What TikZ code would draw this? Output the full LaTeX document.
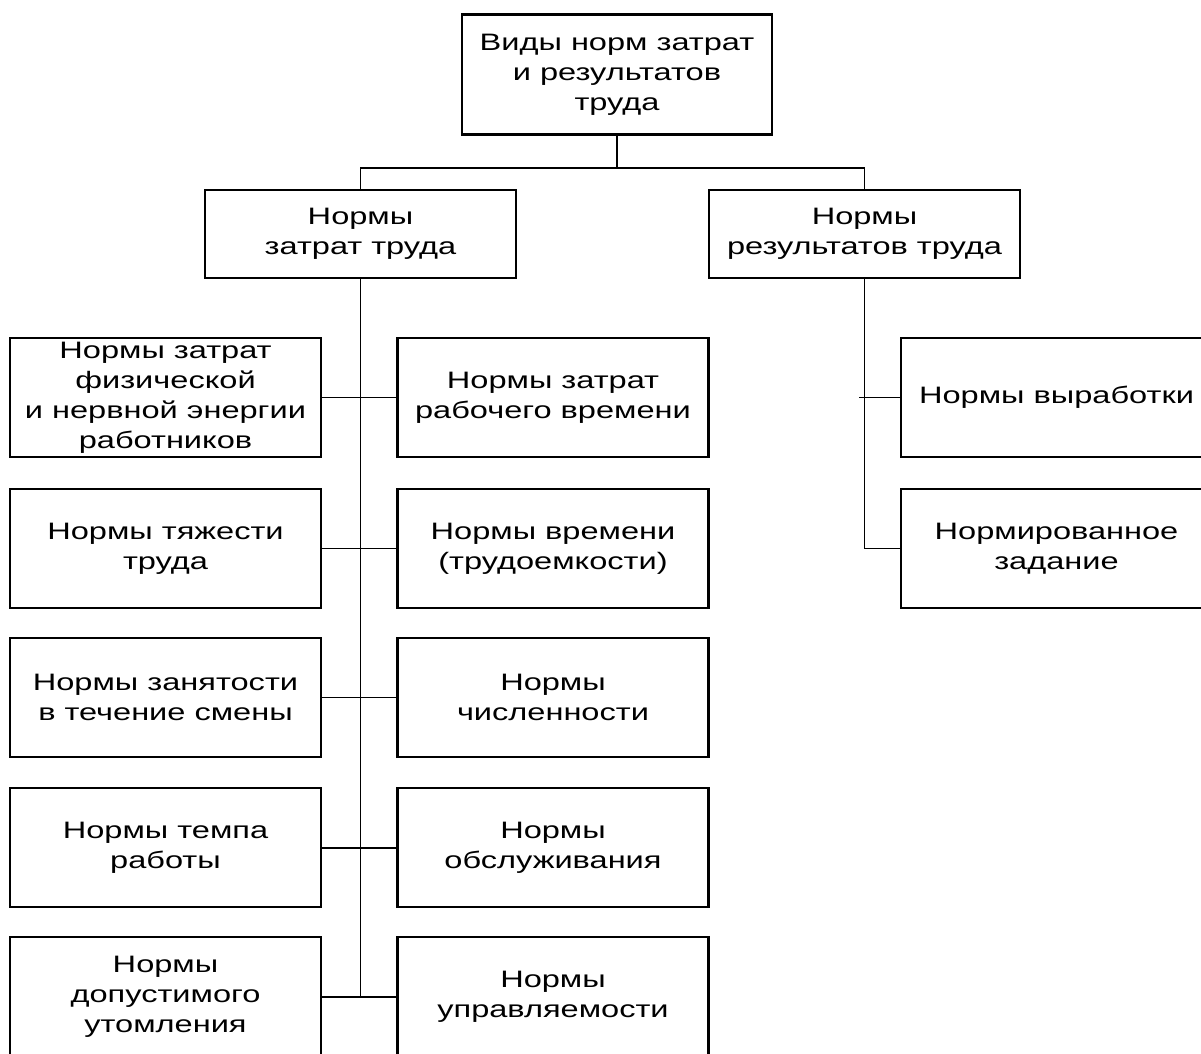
\documentclass[tikz,border=0pt]{standalone}
\usepackage{fontspec}
\setmainfont{Liberation Sans}[FakeStretch=1.37]
\begin{document}
\begin{tikzpicture}[x=0.025cm,y=-0.025cm,
    box/.style={draw,line width=1.5pt,align=center,inner sep=0pt,
      minimum width=7.775cm,minimum height=2.975cm,
      font=\fontsize{16.9}{21.3}\selectfont},
    link/.style={line width=1.4pt}]
    \clip (0,0) rectangle (1201,1053);
    % top and second level
    \node[box,minimum width=7.75cm,minimum height=3cm] (vid) at (617,74.5) {Виды норм затрат\\и результатов\\труда};
    \node[box,minimum height=2.2cm] (zatr) at (360.5,234) {Нормы\\затрат труда};
    \node[box,minimum height=2.2cm] (rez) at (864.5,234) {Нормы\\результатов труда};
    % left column
    \node[box] (l1) at (165.5,397.5) {Нормы затрат\\физической\\и нервной энергии\\работников};
    \node[box] (l2) at (165.5,548.5) {Нормы тяжести\\труда};
    \node[box] (l3) at (165.5,697.5) {Нормы занятости\\в течение смены};
    \node[box] (l4) at (165.5,847.5) {Нормы темпа\\работы};
    \node[box] (l5) at (165.5,996.5) {Нормы\\допустимого\\утомления};
    % middle column
    \node[box] (m1) at (553,397.5) {Нормы затрат\\рабочего времени};
    \node[box] (m2) at (553,548.5) {Нормы времени\\(трудоемкости)};
    \node[box] (m3) at (553,697.5) {Нормы\\численности};
    \node[box] (m4) at (553,847.5) {Нормы\\обслуживания};
    \node[box] (m5) at (553,996.5) {Нормы\\управляемости};
    % right column
    \node[box] (n1) at (1056.5,397.5) {Нормы выработки};
    \node[box] (n2) at (1056.5,548.5) {Нормированное\\задание};
    % connectors
    \draw[link] (vid.south) -- ++(0,32.5) -| (zatr.north);
    \draw[link] (vid.south) -- ++(0,32.5) -| (rez.north);
    \draw[link] (zatr.south) -- (zatr.south |- l5.east);
    \foreach \i in {1,...,5} {
        \draw[link] (l\i.east) -- (m\i.west);
    }
    \draw[link] (rez.south) |- (n2.west);
    \draw[link] (n1.west) -- ++(-41,0);
\end{tikzpicture}
\end{document}
